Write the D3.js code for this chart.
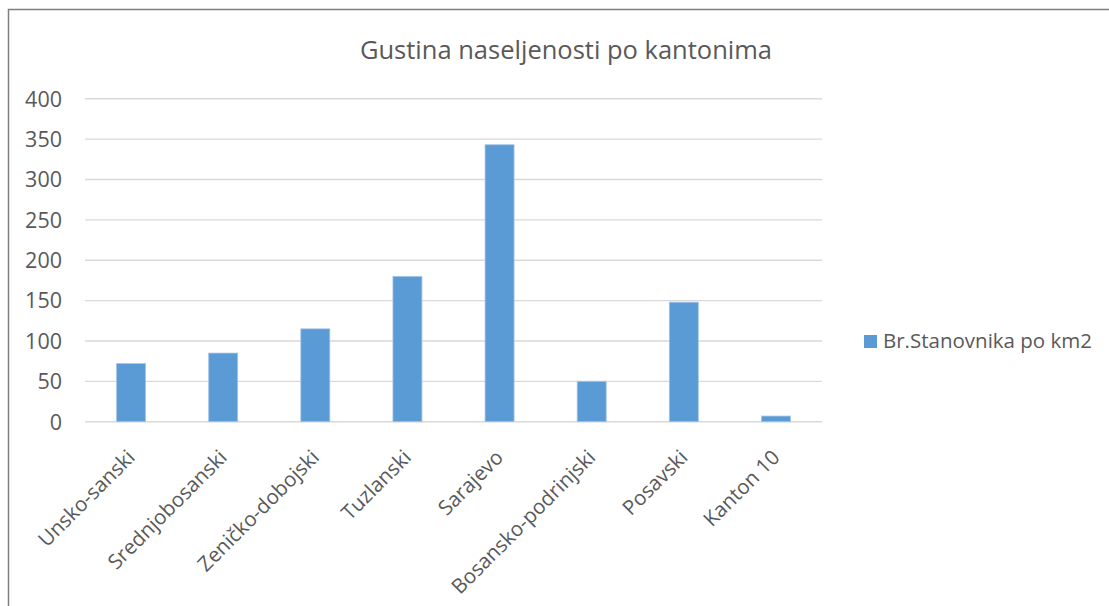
<!DOCTYPE html>
<html>
<head>
<meta charset="utf-8">
<script src="https://cdn.jsdelivr.net/npm/d3@7"></script>
<style>
  html, body { margin: 0; padding: 0; background: #fff; }
  svg { display: block; }
  text { font-family: "Open Sans", "Noto Sans", sans-serif; fill: #595959; }
</style>
</head>
<body>
<svg id="chart" width="1109" height="606"></svg>
<script>
const categories = ["Unsko-sanski", "Srednjobosanski", "Zeničko-dobojski", "Tuzlanski", "Sarajevo", "Bosansko-podrinjski", "Posavski", "Kanton 10"];
const values = [72, 85, 115, 180, 343, 50, 148, 7];
const yTicks = [0, 50, 100, 150, 200, 250, 300, 350, 400];
const title = "Gustina naseljenosti po kantonima";
const seriesName = "Br.Stanovnika po km2";

const svg = d3.select("#chart");
const W = 1109, H = 606;
const plot = { left: 85, right: 822, top: 98.7, bottom: 421.7 };

// outer frame
svg.append("path")
  .attr("d", `M8.5,${H} L8.5,9.5 L${W},9.5`)
  .attr("fill", "none").attr("stroke", "#7f7f7f").attr("stroke-width", 1.5);

const x = d3.scaleBand().domain(categories).range([plot.left, plot.right]).padding(0);
const y = d3.scaleLinear().domain([0, 400]).range([plot.bottom, plot.top]);

// gridlines
svg.append("g").selectAll("line").data(yTicks).join("line")
  .attr("x1", plot.left).attr("x2", plot.right)
  .attr("y1", d => y(d)).attr("y2", d => y(d))
  .attr("stroke", "#d9d9d9").attr("stroke-width", 1.4);

// y axis labels
const yAxis = d3.axisLeft(y).tickValues(yTicks).tickSize(0).tickPadding(0);
const yg = svg.append("g").attr("transform", `translate(62,0)`).call(yAxis);
yg.select(".domain").remove();
yg.selectAll("text").attr("font-size", 21.5).style("font-family", '"Open Sans", sans-serif').attr("fill", "#595959").attr("dy", "0.34em");

// bars
const bw = x.bandwidth() * 0.315;
svg.append("g").selectAll("rect").data(values).join("rect")
  .attr("x", (d, i) => x(categories[i]) + x.bandwidth() / 2 - bw / 2)
  .attr("width", bw)
  .attr("y", d => y(d))
  .attr("height", d => y(0) - y(d))
  .attr("fill", "#5b9bd5")
  .attr("stroke", "#a5c6e8").attr("stroke-width", 0.8);

// x labels
const xAxis = d3.axisBottom(x).tickSize(0).tickPadding(0);
const xg = svg.append("g").attr("transform", `translate(0,${plot.bottom})`).call(xAxis);
xg.select(".domain").remove();
xg.selectAll("text")
  .attr("font-size", 20.5).style("font-family", '"Open Sans", sans-serif').attr("fill", "#595959")
  .attr("text-anchor", "end")
  .attr("dy", null).attr("y", 0)
  .attr("transform", "translate(5,37) rotate(-45)");

// title
svg.append("text").attr("x", 566).attr("y", 59).attr("text-anchor", "middle")
  .attr("font-size", 25.5).text(title);

// legend
const lg = svg.append("g").attr("transform", "translate(864,335)");
lg.append("rect").attr("width", 13).attr("height", 13).attr("fill", "#5b9bd5");
lg.append("text").attr("x", 19).attr("y", 13.3).attr("font-size", 20.5).text(seriesName);
</script>
</body>
</html>
